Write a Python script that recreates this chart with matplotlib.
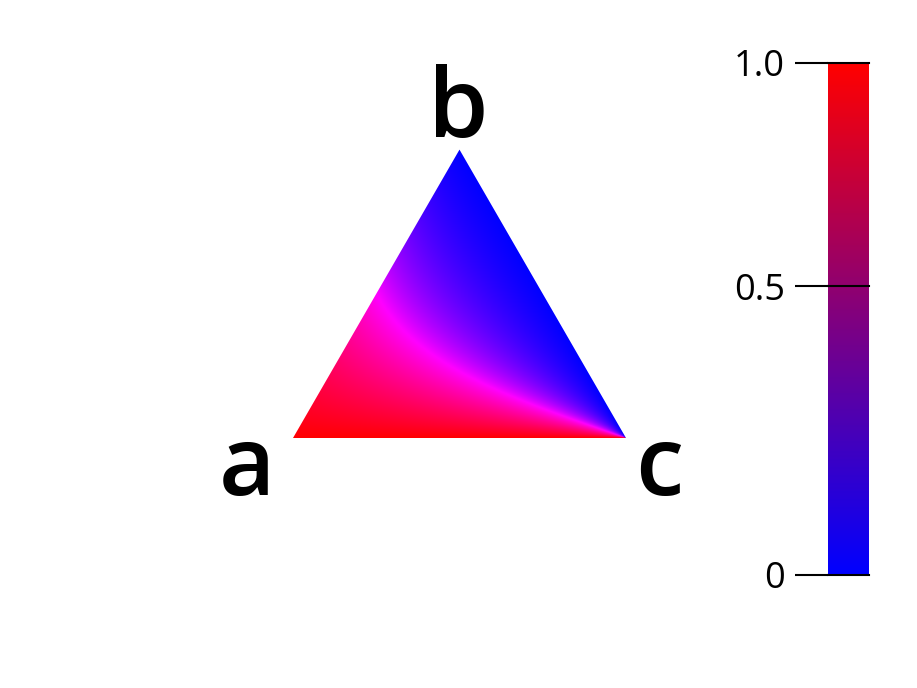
import numpy as np
import matplotlib
matplotlib.use("Agg")
import matplotlib.pyplot as plt
from matplotlib.colors import LinearSegmentedColormap
from matplotlib.path import Path
from matplotlib.patches import PathPatch

# Data
corner_labels = ["a", "b", "c"]
cbar_tick_pos = [0, 0.564, 1.0]
cbar_ticklabels = ["0", "0.5", "1.0"]
cmap_colors = ["#0000ff", "#ff0000"]
resolution = 300

W, H = 917, 688
fig = plt.figure(figsize=(W / 100, H / 100), dpi=100)

# main ternary axes: unit triangle a=(0,0), c=(1,0), b=(0.5, sqrt3/2)
s3 = np.sqrt(3) / 2
scale = 333.0
ax_x0, ax_y0 = 293.0, 438.0
ax = fig.add_axes([0, 0, 1, 1])
ax.set_xlim(-ax_x0 / scale, (W - ax_x0) / scale)
ax.set_ylim((ax_y0 - H) / scale, ax_y0 / scale)
ax.axis("off")

# colour field: red from share of a, blue from share of b
xs = np.linspace(0, 1, resolution * 2)
ys = np.linspace(0, s3, int(resolution * 2 * s3))
X, Y = np.meshgrid(xs, ys)
b = np.clip(Y / s3, 1e-9, 1)
c = np.clip(X - 0.5 * b, 0, 1)
a = np.clip(1 - b - c, 1e-9, 1)
ratio = a / (b * (1 + 2.2 * c - 1.2 * c ** 2))
R = np.clip(ratio, 0, 1)
B = np.clip((1 / ratio) ** 0.85, 0, 1)
img = np.dstack([R, np.zeros_like(R), B])
im = ax.imshow(img, origin="lower", extent=(0, 1, 0, s3), interpolation="bilinear")
tri = Path([(0, 0), (1, 0), (0.5, s3), (0, 0)])
patch = PathPatch(tri, transform=ax.transData, facecolor="none", edgecolor="none")
ax.add_patch(patch)
im.set_clip_path(patch)

font = ["Open Sans", "DejaVu Sans"]
lab_kw = dict(fontsize=70, fontweight="semibold", family=font, ha="center", va="baseline")
ax.text(-0.138, (ax_y0 - 495) / scale, corner_labels[0], **lab_kw)
ax.text(0.497, (ax_y0 - 137) / scale, corner_labels[1], **lab_kw)
ax.text(1.1, (ax_y0 - 495) / scale, corner_labels[2], **lab_kw)

# colorbar
cax = fig.add_axes([828 / W, (H - 575) / H, 41 / W, 512 / H])
cmap = LinearSegmentedColormap.from_list("br", cmap_colors)
grad = np.linspace(0, 1, 256).reshape(-1, 1)
cax.imshow(grad, aspect="auto", cmap=cmap, origin="lower", extent=(0, 1, 0, 1))
cax.set_xlim(0, 1)
cax.set_ylim(0, 1)
for sp in cax.spines.values():
    sp.set_visible(False)
cax.set_xticks([])
cax.set_yticks(cbar_tick_pos)
cax.set_yticklabels(cbar_ticklabels, family=font, fontsize=26)
cax.tick_params(axis="y", length=24, width=1.5, pad=7, color="black")
for v in cbar_tick_pos:
    cax.axhline(v, color="black", lw=1.5, clip_on=False)

fig.savefig("out.png", dpi=100)
